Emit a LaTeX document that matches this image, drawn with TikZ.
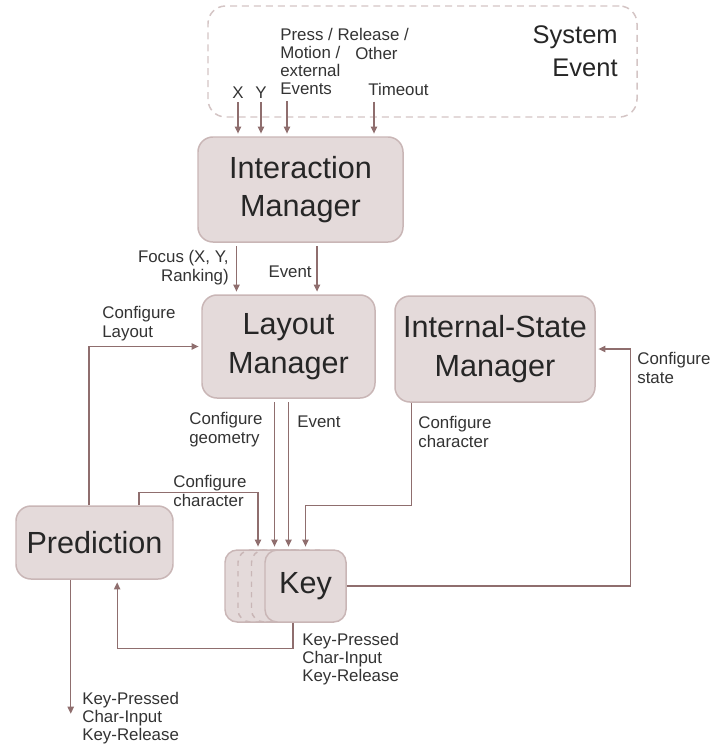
\documentclass[tikz,border=0pt]{standalone}
\usepackage{fontspec}
\setmainfont{Liberation Sans}
\usetikzlibrary{calc,arrows.meta}
\definecolor{boxfill}{HTML}{E4DADA}
\definecolor{boxline}{HTML}{C9B6B6}
\definecolor{flowline}{HTML}{8F6E6E}
\tikzset{
	block/.style={draw=boxline, line width=0.85pt, fill=boxfill, rounded corners=8.5pt, align=center, inner sep=0pt, text=black!85, font=\fontsize{17.4}{22}\selectfont},
	flow/.style={draw=flowline, line width=0.75pt, -{Triangle[length=4pt,width=3.6pt]}, shorten >=1.5pt},
	lbl/.style={inner sep=0pt, align=left, text=black!80, font=\fontsize{9.6}{10.3}\selectfont},
}

\begin{document}
\begin{tikzpicture}
	\useasboundingbox (0,0) rectangle (14.34,-14.92);
	\node [draw=boxline!80, line width=0.85pt, dash pattern=on 4pt off 2.8pt, rounded corners=10pt, minimum width=8.58cm, minimum height=2.22cm] (sys) at (8.45,-1.23) {};
	\node [anchor=base east, align=right, inner sep=0pt, text=black!85, font=\fontsize{14.5}{18.7}\selectfont] (sysl) at (12.36,-1.52) {System\\Event};
	\node [block, minimum width=4.1cm, minimum height=2.1cm] (im) at (6.01,-3.79) {Interaction\\Manager};
	\node [block, minimum width=3.46cm, minimum height=2.06cm] (lm) at (5.77,-6.93) {Layout\\Manager};
	\node [block, minimum width=4cm, minimum height=2.12cm] (ism) at (9.90,-6.98) {Internal-State\\Manager};
	\node [block, minimum width=3.14cm, minimum height=1.46cm] (pred) at (1.89,-10.85) {Prediction};
	\node [block, rounded corners=7pt, minimum width=1.62cm, minimum height=1.44cm] (keyb) at (5.31,-11.72) {};
	\node [block, rounded corners=7pt, fill=none, dashed, minimum width=1.62cm, minimum height=1.44cm] (keyc) at (5.57,-11.72) {};
	\node [block, rounded corners=7pt, fill=none, dashed, minimum width=1.62cm, minimum height=1.44cm] (keyd) at (5.84,-11.72) {};
	\node [block, rounded corners=7pt, minimum width=1.62cm, minimum height=1.44cm] (key) at (6.11,-11.72) {Key};
	% system events
	\node [lbl, anchor=base] (xl) at (4.76,-1.96) {X};
	\node [lbl, anchor=base] (yl) at (5.22,-1.96) {Y};
	\node [lbl, anchor=base west] (press) at (5.60,-1.89) {Press / Release /\\Motion /\\external\\Events};
	\node [lbl, anchor=base west] (other) at (7.10,-1.18) {Other};
	\node [lbl, anchor=base west] (tmo) at (7.36,-1.90) {Timeout};
	\coordinate (ev) at ([xshift=0.14cm]press.south west);
	\coordinate (to) at ([xshift=0.12cm]tmo.south west);
	\draw [flow, shorten <=2.3pt] (xl) -- (xl |- im.north);
	\draw [flow, shorten <=2.3pt] (yl) -- (yl |- im.north);
	\draw [flow, shorten <=3.5pt] (ev) -- (ev |- im.north);
	\draw [flow, shorten <=3.5pt] (to) -- (to |- im.north);
	% interaction to layout
	\coordinate (fo) at ($(im.south west)!0.19!(im.south east)$);
	\coordinate (ie) at ($(im.south west)!0.58!(im.south east)$);
	\draw [flow, shorten <=2pt] (fo) -- (fo |- lm.north);
	\draw [flow, shorten <=2pt] (ie) -- (ie |- lm.north);
	\node [lbl, anchor=base east, align=right] (focl) at (4.58,-5.62) {Focus (X, Y,\\Ranking)};
	\node [lbl, anchor=base east] (evl) at (6.24,-5.54) {Event};
	% layout to key
	\coordinate (geo) at ([xshift=-0.28cm]lm.south);
	\draw [flow, shorten <=2pt] (geo) -- (geo |- key.north);
	\draw [flow, shorten <=2pt] (lm.south) -- (lm.south |- key.north);
	\node [lbl, anchor=base west] (geol) at (3.78,-8.86) {Configure\\geometry};
	\node [lbl, anchor=base west] (evk) at (5.94,-8.54) {Event};
	% prediction
	\coordinate (pl) at ($(pred.north west)!0.465!(pred.north east)$);
	\draw [flow] (pl) |- (lm.west);
	\node [lbl, anchor=base west] (cll) at (2.04,-6.74) {Configure\\Layout};
	\coordinate (pc) at ($(pred.north west)!0.78!(pred.north east)$);
	\coordinate (kc) at ([xshift=-0.95cm]key.north);
	\draw [flow] (pc) -- ++(0,0.26) -| (kc);
	\node [lbl, anchor=base west] (pcl) at (3.46,-10.12) {Configure\\character};
	% internal state
	\coordinate (ic) at ($(ism.south west)!0.085!(ism.south east)$);
	\draw [flow] (ic) -- ++(0,-2.06) -| (key.north);
	\node [lbl, anchor=base west] (icl) at (8.36,-8.94) {Configure\\character};
	\draw [flow] (key.east) -- ++(5.68,0) |- (ism.east);
	\node [lbl, anchor=base west] (csl) at (12.74,-7.66) {Configure\\state};
	% key output
	\coordinate (kp) at ([xshift=-0.25cm]key.south);
	\coordinate (pk) at ($(pred.south west)!0.643!(pred.south east)$);
	\draw [flow] (kp) -- ++(0,-0.52) -| (pk);
	\node [lbl, anchor=base west] (kpl) at (6.04,-13.63) {Key-Pressed\\Char-Input\\Key-Release};
	\coordinate (po) at ($(pred.south west)!0.35!(pred.south east)$);
	\coordinate (out) at ($(po)+(0,-2.68)$);
	\draw [flow, shorten >=0pt] (po) -- (out);
	\node [lbl, anchor=base west] (outl) at (1.64,-14.81) {Key-Pressed\\Char-Input\\Key-Release};
\end{tikzpicture}
\end{document}
